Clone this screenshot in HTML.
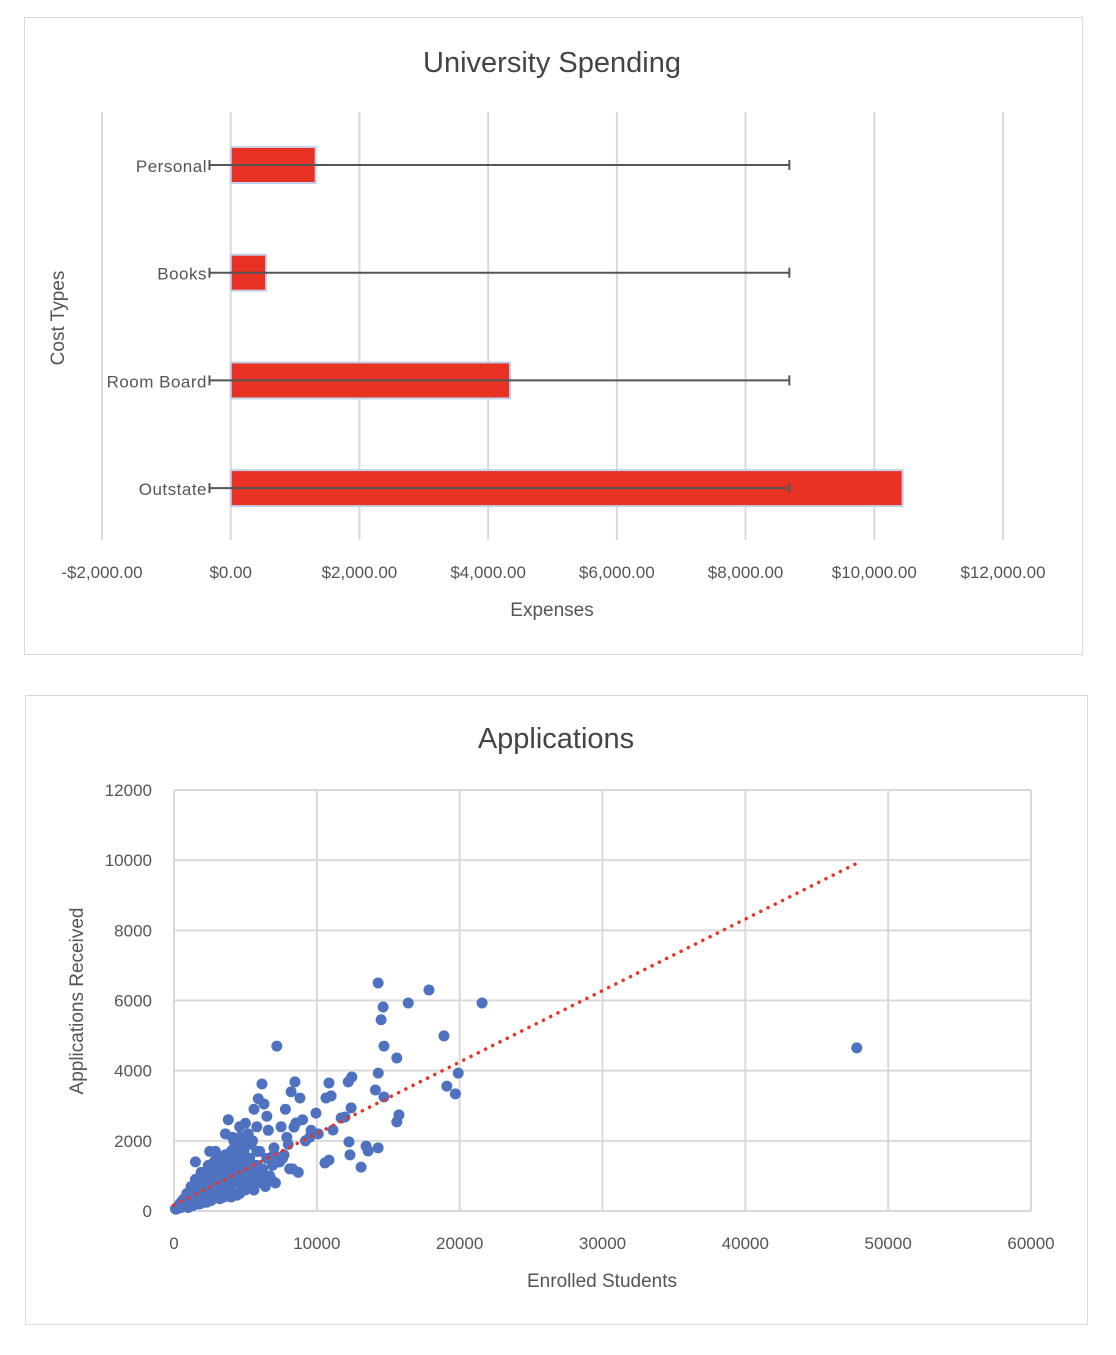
<!DOCTYPE html>
<html><head><meta charset="utf-8"><style>
html,body{margin:0;padding:0;background:#fff;}
body{width:1116px;height:1350px;overflow:hidden;font-family:"Liberation Sans",sans-serif;}
svg text{font-family:"Liberation Sans",sans-serif;}
</style></head><body>
<svg id="s" width="1116" height="1350" xmlns="http://www.w3.org/2000/svg">
<rect x="24.5" y="17.5" width="1058" height="637" fill="#fff" stroke="#d9d9d9"/>
<rect x="25.5" y="695.5" width="1062" height="629" fill="#fff" stroke="#d9d9d9"/>
<g id="bar"></g><g id="sc"></g>
</svg>
<script>
// ---- Bar chart data ----
const barCategories = ["Personal","Books","Room Board","Outstate"];
const barValues = [1320, 550, 4340, 10440];
const errLow = [-330, -330, -330, -330];
const errHigh = [8680, 8680, 8680, 8680];
const barTicks = [-2000,0,2000,4000,6000,8000,10000,12000];
const barTickLabels = ["-$2,000.00","$0.00","$2,000.00","$4,000.00","$6,000.00","$8,000.00","$10,000.00","$12,000.00"];

// ---- Scatter data ----
const enrolled = [14290,16400,17850,21570,14640,14500,18900,14700,15600,7200,19900,19100,19700,14300,14100,14700,15750,15600,47800,
10850,12450,12200,8470,6160,8820,11000,10640,12400,11970,11130,12250,13450,13590,14290,12320,13100,10850,10570,11700,9940,8540,8400,
5900,5600,6300,7500,7800,8200,9000,9500,8000,7600,6900,6500,4600,3800,4100,5200,5500,6000,7000,7300,8100,8700,6700,
4500,4900,5300,5800,6200,4200,3600,3300,2900,3100,3500,4000,4400,4800,5100,5400,5700,6100,6400,6800,7100,
2500,2700,3000,3200,3400,3700,3900,4300,4700,5000,2200,2400,2600,2800,3300,3600,3800,4100,4600,5200,5600,
1800,2000,2100,2300,2500,2700,2900,3100,3400,3700,4000,4400,1500,1700,1900,2100,2300,2600,2800,3000,3200,3500,
1200,1400,1600,1800,2000,2200,2400,2600,900,1100,1300,1500,1700,1900,2100,2300,700,800,1000,1200,1400,1600,1800,
500,600,700,900,1100,1300,400,500,600,800,1000,300,400,500,200,300,100,200,150,600,1500,2500,3600,4700,5800,6500,7700,8300,9200,
6600,5000,4200,3000,2000,1000,7900,9600,10100,
2800,3200,3600,4000,4400,4800,5200,5600,6000,2400,2900,3400,3900,4400,4900,5400,5900,6300,3000,3500,4000,4500,5000,5500,
2600,3100,3700,4200,4700,5300,5800,6200,1900,2300,2700,3100,3500,3900,4300,4700,5100,1600,2000,2400,2800,3200,3600,
1300,1700,2100,2500,2900,3300,1000,1400,1800,2200,4200,4600,5000,5400,5800,6600,7000,7400];
const applications = [6500,5930,6300,5930,5815,5450,4990,4700,4360,4700,3930,3560,3340,3930,3450,3250,2740,2540,4650,
3650,3820,3680,3680,3620,3220,3280,3220,2940,2680,2310,1970,1850,1710,1800,1600,1250,1450,1370,2650,2790,2510,2390,
3200,2900,3050,2400,2900,3400,2600,2100,1900,1500,1300,2700,2400,2600,2100,2200,2000,1700,1800,1400,1200,1100,1000,
1900,1700,1500,1300,1200,1800,1600,1500,1700,1300,1400,1200,1100,1000,900,1100,800,900,700,900,800,
1200,1300,1100,1000,900,1200,1000,900,700,600,1100,900,800,700,800,700,600,500,500,700,600,
900,1000,800,700,600,1000,700,500,600,500,400,450,900,800,700,600,500,600,400,500,350,400,
700,600,500,500,400,350,350,300,500,450,400,350,300,300,250,250,350,300,300,250,250,200,200,
250,250,200,200,200,150,200,150,150,150,100,120,100,100,90,80,60,70,50,300,1400,1700,2200,2100,2400,1500,1600,1200,2000,
2300,2500,1200,1500,600,400,2100,2300,2200,
1400,1500,1600,1700,1600,1500,1400,1300,1200,1300,1300,1400,1500,1400,1300,1200,1100,1000,1000,1100,1200,1200,1100,1000,
900,1000,1000,1000,900,900,800,800,1100,1100,1100,1000,1000,900,800,700,700,900,900,800,800,700,600,
700,700,700,600,600,500,500,500,500,400,2000,2100,2000,1900,1700,1500,1600,1400];
const trendStart = [0, 170];
const trendEnd = [48000, 9950];
const scXTicks = [0,10000,20000,30000,40000,50000,60000];
const scYTicks = [0,2000,4000,6000,8000,10000,12000];

const NS="http://www.w3.org/2000/svg";
function mk(tag, attrs, parent, text){const e=document.createElementNS(NS,tag);for(const k in attrs)e.setAttribute(k,attrs[k]);if(text!==undefined)e.textContent=text;parent.appendChild(e);return e;}

// ---- Bar chart ----
const bg=document.getElementById('bar');
const bx0=102,bx1=1003,bmin=-2000,bmax=12000;
const bX=v=>bx0+(v-bmin)/(bmax-bmin)*(bx1-bx0);
const bRowY=i=>165+i*107.7;
let t=mk('text',{x:552,y:72,'text-anchor':'middle','font-size':'29',fill:'#444'},bg,'University Spending');


barTicks.forEach((v,i)=>{
  const l=mk('line',{x1:bX(v),x2:bX(v),y1:112,y2:540,stroke:'#d9d9d9','stroke-width':2},bg);
  
  
  const tx=mk('text',{x:bX(v),y:578,'text-anchor':'middle','font-size':'17',fill:'#555'},bg,barTickLabels[i]);
  
  
});
barCategories.forEach((c,i)=>{
  const y=bRowY(i);
  const r=mk('rect',{x:bX(0),y:y-18,width:bX(barValues[i])-bX(0),height:36,fill:'#e83324',stroke:'#c5d0ea','stroke-width':2},bg);
  
  
  const e=mk('path',{d:`M${bX(errLow[i])},${y-5}V${y+5}M${bX(errLow[i])},${y}H${bX(errHigh[i])}M${bX(errHigh[i])},${y-5}V${y+5}`,stroke:'#555','stroke-width':2,fill:'none'},bg);
  
  
  const lb=mk('text',{x:207,y:y+7,'text-anchor':'end','font-size':'17',fill:'#555','letter-spacing':'0.5'},bg,c);
  
  
});
t=mk('text',{x:552,y:616,'text-anchor':'middle','font-size':'19',fill:'#555'},bg,'Expenses');


t=mk('text',{x:0,y:0,'text-anchor':'middle','font-size':'19',fill:'#555',transform:'translate(64,318) rotate(-90)'},bg,'Cost Types');



// ---- Scatter chart ----
const sg=document.getElementById('sc');
const sx0=174,sx1=1031,sy0=1211,sy1=790;
const sX=v=>sx0+v/60000*(sx1-sx0);
const sY=v=>sy0-v/12000*(sy0-sy1);
t=mk('text',{x:556,y:748,'text-anchor':'middle','font-size':'29',fill:'#444'},sg,'Applications');


scYTicks.forEach(v=>{
  const l=mk('line',{x1:sx0,x2:sx1,y1:sY(v),y2:sY(v),stroke:'#d9d9d9','stroke-width':2},sg);
  
  
  const tx=mk('text',{x:152,y:sY(v)+6,'text-anchor':'end','font-size':'17',fill:'#555'},sg,String(v));
  
  
});
scXTicks.forEach(v=>{
  const l=mk('line',{x1:sX(v),x2:sX(v),y1:sy1,y2:sy0,stroke:'#d9d9d9','stroke-width':2},sg);
  
  
  const tx=mk('text',{x:sX(v),y:1249,'text-anchor':'middle','font-size':'17',fill:'#555'},sg,String(v));
  
  
});
enrolled.forEach((v,i)=>{
  const c=mk('circle',{cx:sX(v),cy:sY(applications[i]),r:5.5,fill:'#4f72c0'},sg);
  
  
});
const tl=mk('line',{x1:sX(trendStart[0]),y1:sY(trendStart[1]),x2:sX(trendEnd[0]),y2:sY(trendEnd[1]),stroke:'#e83324','stroke-width':3.5,'stroke-dasharray':'0.1 8','stroke-linecap':'round'},sg);


t=mk('text',{x:602,y:1287,'text-anchor':'middle','font-size':'19',fill:'#555'},sg,'Enrolled  Students');


t=mk('text',{x:0,y:0,'text-anchor':'middle','font-size':'19',fill:'#555',transform:'translate(83,1001) rotate(-90)'},sg,'Applications  Received');


</script>
</body></html>
